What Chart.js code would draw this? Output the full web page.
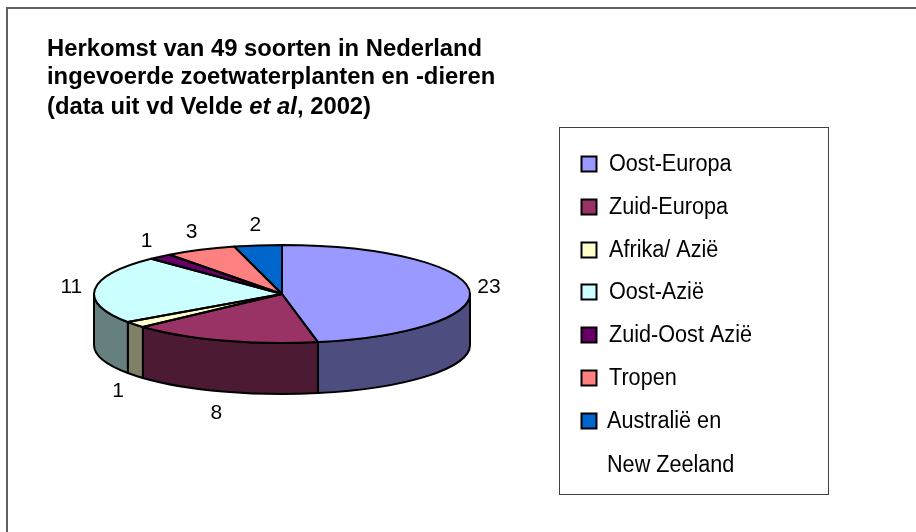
<!DOCTYPE html>
<html><head><meta charset="utf-8">
<style>html,body{margin:0;padding:0;background:#fff}canvas{display:block}#w{position:relative;width:916px;height:532px}</style>
<script src="https://cdn.jsdelivr.net/npm/chart.js@4"></script>
</head><body><div id="w"><canvas id="c" width="916" height="532"></canvas></div>
<script>
const categories = ['Oost-Europa','Zuid-Europa','Afrika/ Azië','Oost-Azië','Zuid-Oost Azië','Tropen',['Australië en','New Zeeland']];
const values = [23,8,1,11,1,3,2];
const colours = ['#9999FF','#993366','#FFFFCC','#CCFFFF','#660066','#FF8080','#0066CC'];
const sideColours = ['#4D4D80','#4D1A33','#808066','#668080','#330033','#804040','#003366'];
const titleLines = [
  [['Herkomst van 49 soorten in Nederland','bold']],
  [['ingevoerde zoetwaterplanten en -dieren','bold']],
  [['(data uit vd Velde ','bold'],['et al','italic bold'],[', 2002)','bold']]
];
const SQUASH = 49/188, DEPTH = 51;
function elPath(ctx,cx,cy,r,a,b,ccw){ctx.ellipse(cx,cy,r,r*SQUASH,0,a,b,!!ccw);}
const pie3d = {
  id:'pie3d',
  beforeDatasetsDraw(chart){
    const ctx=chart.ctx, arcs=chart.getDatasetMeta(0).data;
    ctx.save();
    ctx.lineWidth=2;ctx.strokeStyle='#000';ctx.lineJoin='round';
    arcs.forEach((arc,i)=>{
      const p=arc.getProps(['x','y','startAngle','endAngle','outerRadius'],true);
      const s=Math.max(p.startAngle,0), e=Math.min(p.endAngle,Math.PI);
      if(e<=s) return;
      ctx.beginPath();
      elPath(ctx,p.x,p.y,p.outerRadius,s,e);
      elPath(ctx,p.x,p.y+DEPTH,p.outerRadius,e,s,true);
      ctx.closePath();
      ctx.fillStyle=sideColours[i];ctx.fill();ctx.stroke();
    });
    ctx.restore();
    const a=arcs[0], cx=a.x, cy=a.y;
    ctx.save();
    ctx.translate(cx,cy);ctx.scale(1,SQUASH);ctx.translate(-cx,-cy);
  },
  afterDatasetsDraw(chart){
    const ctx=chart.ctx, arcs=chart.getDatasetMeta(0).data;
    ctx.restore();
    ctx.save();
    ctx.lineWidth=2;ctx.strokeStyle='#000';ctx.lineJoin='round';
    arcs.forEach(arc=>{
      const p=arc.getProps(['x','y','startAngle','endAngle','outerRadius'],true);
      ctx.beginPath();
      ctx.moveTo(p.x,p.y);
      elPath(ctx,p.x,p.y,p.outerRadius,p.startAngle,p.endAngle);
      ctx.closePath();ctx.stroke();
    });
    ctx.fillStyle='#000';ctx.font='21px "Liberation Sans"';ctx.textAlign='center';ctx.textBaseline='middle';
    arcs.forEach((arc,i)=>{
      const p=arc.getProps(['x','y','startAngle','endAngle','outerRadius'],true);
      const m=(p.startAngle+p.endAngle)/2, sn=Math.sin(m), cs=Math.cos(m);
      const gapX=cs<0?20+4*(1-Math.abs(sn)):20;
      const x=p.x+(p.outerRadius+gapX)*cs;
      const y=p.y+(p.outerRadius*SQUASH+20)*sn+(sn>0.1?DEPTH+3:0);
      ctx.fillText(String(values[i]),x,y);
    });
    ctx.restore();
  },
  afterDraw(chart){
    const ctx=chart.ctx;
    ctx.save();
    // only the top and left edges of the outer frame fall inside the picture
    ctx.strokeStyle='#606060';ctx.lineWidth=2;
    ctx.beginPath();ctx.moveTo(7,532);ctx.lineTo(7,8);ctx.lineTo(916,8);ctx.stroke();
    ctx.lineWidth=1;
    ctx.fillStyle='#000';ctx.textAlign='left';ctx.textBaseline='alphabetic';
    titleLines.forEach((parts,i)=>{
      let x=47;const y=[56,84,114][i];
      parts.forEach(([t,st])=>{ctx.font=st+' 23.8px "Liberation Sans"';ctx.fillText(t,x,y);x+=ctx.measureText(t).width;});
    });
    ctx.strokeStyle='#404040';ctx.strokeRect(559.5,127.5,269,367);
    const rows=[164,207,250,292,335,378,421];
    ctx.textBaseline='middle';ctx.font='23px "Liberation Sans"';
    categories.forEach((c,i)=>{
      const y=rows[i];
      ctx.fillStyle=colours[i];ctx.fillRect(581.5,y-7.5,15,15);
      ctx.strokeStyle='#000';ctx.lineWidth=2;ctx.strokeRect(581.5,y-7.5,15,15);
      ctx.fillStyle='#000';
      const lines=Array.isArray(c)?c:[c];
      lines.forEach((t,j)=>{
        ctx.save();
        ctx.translate(Array.isArray(c)?607:609,y+1+j*44);ctx.scale(0.94,1);
        ctx.fillText(t,0,0);ctx.restore();
      });
    });
    ctx.restore();
  }
};
new Chart(document.getElementById('c'),{
  type:'pie',
  data:{labels:categories,datasets:[{data:values,backgroundColor:colours,borderWidth:0}]},
  options:{
    responsive:false,animation:false,
    layout:{padding:{left:94,right:446,top:106,bottom:50}},
    plugins:{legend:{display:false},title:{display:false},tooltip:{enabled:false}}
  },
  plugins:[pie3d]
});
</script></body></html>
